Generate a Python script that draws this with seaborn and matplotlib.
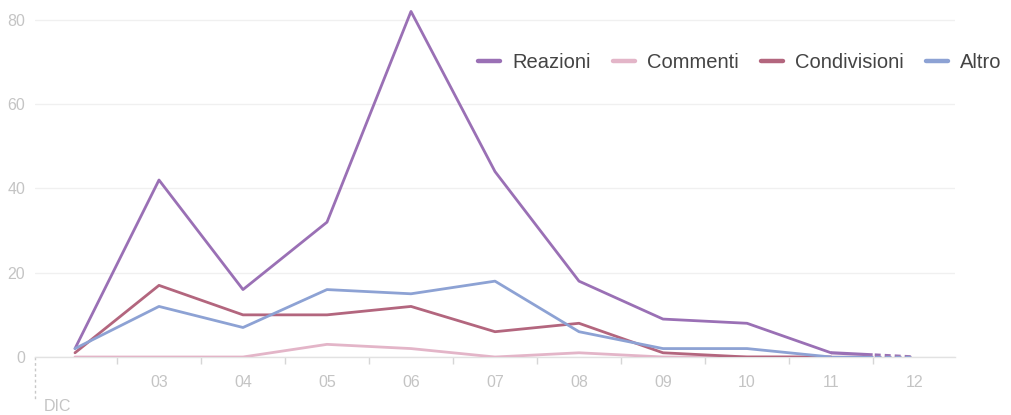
import matplotlib
matplotlib.use("Agg")
import matplotlib.pyplot as plt
import seaborn as sns
import pandas as pd

# Daily interactions, December
days = [2, 3, 4, 5, 6, 7, 8, 9, 10, 11, 12]
day_labels = ["03", "04", "05", "06", "07", "08", "09", "10", "11", "12"]
reazioni = [2, 42, 16, 32, 82, 44, 18, 9, 8, 1, 0]
commenti = [0, 0, 0, 3, 2, 0, 1, 0, 0, 0, 0]
condivisioni = [1, 17, 10, 10, 12, 6, 8, 1, 0, 0, 0]
altro = [2, 12, 7, 16, 15, 18, 6, 2, 2, 0, 0]
series_names = ["Reazioni", "Commenti", "Condivisioni", "Altro"]
colors = ["#9a70b5", "#e3b5c8", "#b3667e", "#8da2d4"]
month_label = "DIC"

sns.set_theme(style="white")
plt.rcParams["font.family"] = ["Liberation Sans", "DejaVu Sans"]
plt.rcParams["lines.scale_dashes"] = False

values = {"Reazioni": reazioni, "Commenti": commenti,
          "Condivisioni": condivisioni, "Altro": altro}
rows = []
for name in series_names:
    for d, v in zip(days, values[name]):
        rows.append({"day": d, "value": v, "serie": name})
df = pd.DataFrame(rows)

W, H = 1011, 415
fig = plt.figure(figsize=(W / 100, H / 100), dpi=100)
x_left, x_right = 35, 955
y_zero, y_top = 357, 3
ax = fig.add_axes([x_left / W, (H - y_zero) / H,
                   (x_right - x_left) / W, (y_zero - y_top) / H])

# complete days: solid lines
solid = df[df["day"] <= 11]
sns.lineplot(data=solid, x="day", y="value", hue="serie",
             hue_order=series_names, palette=colors, linewidth=2.0,
             ax=ax, legend=False, zorder=3)

# last (partial) day: solid for the first half, dashed afterwards
tail_style = (0, (30, 1.5, 4.3, 2.9, 4.3, 2.9, 4.3, 2.9, 4.3, 60))
for name, col in zip(series_names, colors):
    seg = df[(df["serie"] == name) & (df["day"] >= 11)]
    ax.plot(seg["day"], seg["value"], color=col, linewidth=2.3,
            linestyle=tail_style, dash_capstyle="butt", zorder=3)

ax.set_xlim(1.524, 12.476)
ax.set_ylim(0, 84)
ax.set_yticks([0, 20, 40, 60, 80])
ax.set_yticklabels(["0", "20", "40", "60", "80"])
ax.set_xticks(days[1:])
ax.set_xticklabels(day_labels)
ax.set_xticks([d + 0.5 for d in days[:-1]], minor=True)
ax.tick_params(axis="x", which="major", length=0, pad=13,
               labelsize=11.5, labelcolor="#c4c4c4")
ax.tick_params(axis="x", which="minor", length=5, width=1,
               color="#d6d6d6", direction="out", bottom=True)
ax.tick_params(axis="y", length=0, pad=7, labelsize=11.5,
               labelcolor="#c4c4c4")

ax.grid(axis="y", color="#f0f0f0", linewidth=1)
ax.grid(axis="x", visible=False)
for side in ["top", "right", "left"]:
    ax.spines[side].set_visible(False)
ax.spines["bottom"].set_color("#e2e2e2")
ax.spines["bottom"].set_linewidth(1)
ax.set_xlabel("")
ax.set_ylabel("")

# month marker below the axis
ax.plot([0, 0], [0, -0.12], transform=ax.transAxes, color="#c8c8c8",
        linewidth=1, linestyle=(0, (2, 2)), clip_on=False)
ax.text(0.01, -0.141, month_label, transform=ax.transAxes,
        fontsize=11.5, color="#c4c4c4", ha="left", va="center")

handles = [plt.Line2D([], [], color=c, linewidth=3.2, solid_capstyle="round")
           for c in colors]
fig.legend(handles, series_names, loc="center left",
           bbox_to_anchor=(478 / W, (H - 63) / H), ncol=4, frameon=False,
           fontsize=14.5, handlelength=1.1, handletextpad=0.6,
           columnspacing=1.1, labelcolor="#444444",
           borderpad=0, borderaxespad=0)

fig.savefig("out.png", dpi=100)
